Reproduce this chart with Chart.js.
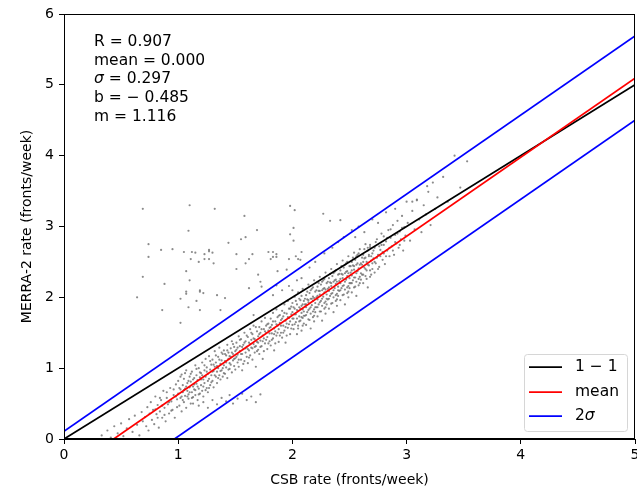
<!DOCTYPE html>
<html>
<head>
<meta charset="utf-8">
<script src="https://cdn.jsdelivr.net/npm/chart.js@4/dist/chart.umd.min.js"></script>
<style>
html,body{margin:0;padding:0;background:#fff;}
#wrap{width:637px;height:489px;position:relative;}
</style>
</head>
<body>
<div id="wrap"><canvas id="c" width="637" height="489"></canvas></div>
<script>
// ---- statistics shown on the figure ----
const statLabels = ["R", "mean", "σ", "b", "m"];
const statValues = ["0.907", "0.000", "0.297", "− 0.485", "1.116"];
const fitSlope = 1.116;
const fitIntercept = -0.485;
const sigma = 0.297;

// ---- axis ticks ----
const xTicks = [0, 1, 2, 3, 4, 5];
const yTicks = [0, 1, 2, 3, 4, 5, 6];
const xTitle = "CSB rate (fronts/week)";
const yTitle = "MERRA-2 rate (fronts/week)";
const legendLabels = ["1 − 1", "mean", "2σ"];

// ---- scatter: [CSB rate, MERRA-2 rate] ----
const bandPoints = [
[0.33,0.05],[0.38,0.12],[0.41,0.02],[0.44,0.18],[0.47,0.08],[0.5,0.22],[0.52,0.04],[0.55,0.15],[0.57,0.28],[0.6,0.1],[0.62,0.33],[0.64,0.2],[0.66,0.05],[0.68,0.38],[0.69,0.25],
[0.71,0.31],[0.72,0.18],[0.73,0.45],[0.74,0.12],[0.75,0.36],[0.76,0.52],[0.77,0.27],[0.78,0.41],[0.79,0.21],[0.8,0.6],[0.81,0.35],[0.82,0.48],[0.83,0.16],[0.84,0.39],[0.85,0.55],[0.86,0.3],[0.87,0.68],[0.88,0.44],[0.89,0.25],[0.9,0.58],[0.91,0.49],[0.92,0.36],[0.93,0.72],[0.94,0.53],[0.95,0.41],[0.96,0.62],[0.97,0.3],[0.98,0.77],[0.99,0.56],[0.99,0.45],
[1.0,0.64],[1.0,0.82],[1.01,0.47],[1.02,0.7],[1.02,0.58],[1.03,0.91],[1.03,0.39],[1.04,0.66],[1.04,0.76],[1.05,0.52],[1.05,0.85],[1.06,0.61],[1.06,0.71],[1.07,0.44],[1.07,0.97],[1.08,0.68],[1.08,0.79],[1.09,0.57],[1.09,0.63],[1.1,0.88],
[1.1,0.73],[1.11,0.5],[1.11,0.81],[1.12,0.66],[1.12,0.95],[1.13,0.74],[1.13,0.59],[1.14,0.86],[1.14,0.7],[1.15,1.04],[1.15,0.62],[1.16,0.78],[1.16,0.9],[1.17,0.55],[1.17,0.83],[1.18,0.71],[1.18,1.0],[1.19,0.64],[1.19,0.87],[1.2,0.76],
[1.2,0.93],[1.21,0.68],[1.21,1.08],[1.22,0.84],[1.22,0.6],[1.23,0.97],[1.23,0.79],[1.24,1.13],[1.24,0.88],[1.25,0.72],[1.25,1.01],[1.26,0.92],[1.26,0.66],[1.27,0.85],[1.27,1.17],[1.28,0.98],[1.28,0.76],[1.29,1.05],[1.29,0.9],[1.3,0.82],
[1.3,1.12],[1.31,0.96],[1.31,0.73],[1.32,1.02],[1.32,1.24],[1.33,0.88],[1.33,1.08],[1.34,0.95],[1.34,0.79],[1.35,1.16],[1.35,1.0],[1.36,0.9],[1.36,1.29],[1.37,1.06],[1.37,0.84],[1.38,1.11],[1.38,0.97],[1.39,1.2],[1.39,0.88],[1.4,1.04],
[1.13,0.5],[1.18,0.47],[1.22,0.52],[1.26,0.44],[1.3,0.55],[1.34,0.49],[1.38,0.58],[1.42,0.53],[1.45,0.62],[1.48,0.5],[1.52,0.57],[1.56,0.64],[1.6,0.55],[1.64,0.6],[1.68,0.52],[1.72,0.63],
[1.4,1.25],[1.41,0.92],[1.41,1.1],[1.42,1.18],[1.42,1.01],[1.43,1.33],[1.43,0.86],[1.44,1.13],[1.44,1.22],[1.45,0.99],[1.45,1.07],[1.46,1.28],[1.46,1.16],[1.47,0.94],[1.47,1.38],[1.48,1.11],[1.48,1.2],[1.49,1.03],[1.49,1.3],[1.5,1.14],
[1.5,0.98],[1.51,1.26],[1.51,1.36],[1.52,1.08],[1.52,1.19],[1.53,1.45],[1.53,1.02],[1.54,1.24],[1.54,1.31],[1.55,1.12],[1.55,1.41],[1.56,1.2],[1.56,0.97],[1.57,1.33],[1.57,1.27],[1.58,1.1],[1.58,1.5],[1.59,1.22],[1.59,1.38],[1.6,1.16],
[1.6,1.3],[1.61,1.44],[1.61,1.07],[1.62,1.36],[1.62,1.25],[1.63,1.55],[1.63,1.18],[1.64,1.4],[1.64,1.29],[1.65,1.12],[1.65,1.48],[1.66,1.34],[1.66,1.6],[1.67,1.22],[1.67,1.41],[1.68,1.31],[1.68,1.02],[1.69,1.52],[1.69,1.37],[1.7,1.26],
[1.7,1.45],[1.71,1.58],[1.71,1.2],[1.72,1.39],[1.72,1.5],[1.73,1.66],[1.73,1.31],[1.74,1.46],[1.74,1.13],[1.75,1.55],[1.75,1.42],[1.76,1.71],[1.76,1.35],[1.77,1.5],[1.77,1.6],[1.78,1.27],[1.78,1.44],[1.79,1.63],[1.79,1.53],[1.8,1.38],
[1.8,1.57],[1.81,1.7],[1.81,1.32],[1.82,1.49],[1.82,1.61],[1.83,1.78],[1.83,1.42],[1.84,1.56],[1.84,1.25],[1.85,1.66],[1.85,1.52],[1.86,1.83],[1.86,1.46],[1.87,1.6],[1.87,1.72],[1.88,1.37],[1.88,1.55],[1.89,1.75],[1.89,1.64],[1.9,1.5],
[1.9,1.68],[1.91,1.81],[1.91,1.43],[1.92,1.6],[1.92,1.73],[1.93,1.9],[1.93,1.53],[1.94,1.67],[1.94,1.36],[1.95,1.77],[1.95,1.63],[1.96,1.95],[1.96,1.57],[1.97,1.71],[1.97,1.84],[1.98,1.48],[1.98,1.66],[1.99,1.87],[1.99,1.76],[2.0,1.61],
[2.0,1.79],[2.0,1.92],[2.01,1.55],[2.01,1.7],[2.02,1.84],[2.02,2.01],[2.03,1.65],[2.03,1.76],[2.04,1.48],[2.04,1.9],[2.05,1.81],[2.05,1.6],[2.05,2.07],[2.06,1.73],[2.06,1.86],[2.07,1.67],[2.07,1.96],[2.08,1.78],[2.08,1.53],[2.08,1.88],[2.09,2.12],[2.09,1.71],[2.09,1.83],[2.1,1.63],[2.1,1.95],[2.1,1.8],
[2.11,1.9],[2.11,1.74],[2.12,2.03],[2.12,1.61],[2.12,1.86],[2.13,1.97],[2.13,1.79],[2.14,2.18],[2.14,1.69],[2.14,1.93],[2.15,1.84],[2.15,2.06],[2.16,1.56],[2.16,1.98],[2.16,1.77],[2.17,1.89],[2.17,2.12],[2.18,1.72],[2.18,1.95],[2.18,2.01],[2.19,1.83],[2.19,2.24],[2.19,1.66],[2.2,1.92],[2.2,2.08],[2.2,1.79],
[2.21,2.0],[2.21,1.86],[2.22,2.15],[2.22,1.73],[2.22,1.97],[2.23,2.09],[2.23,1.9],[2.24,2.29],[2.24,1.8],[2.24,2.04],[2.25,1.95],[2.25,2.18],[2.26,1.67],[2.26,2.1],[2.26,1.88],[2.27,2.01],[2.27,2.24],[2.28,1.84],[2.28,2.07],[2.28,2.13],[2.29,1.94],[2.29,2.35],[2.29,1.77],[2.3,2.04],[2.3,2.2],[2.3,1.9],
[2.31,2.12],[2.31,1.97],[2.32,2.27],[2.32,1.84],[2.32,2.09],[2.33,2.21],[2.33,2.02],[2.34,2.4],[2.34,1.91],[2.34,2.16],[2.35,2.06],[2.35,2.3],[2.36,1.79],[2.36,2.22],[2.36,2.0],[2.37,2.13],[2.37,2.36],[2.38,1.95],[2.38,2.19],[2.38,2.25],[2.39,2.05],[2.39,2.47],[2.39,1.88],[2.4,2.15],[2.4,2.32],[2.4,2.02],
[2.41,2.23],[2.41,2.09],[2.42,2.38],[2.42,1.96],[2.42,2.2],[2.43,2.33],[2.43,2.13],[2.44,2.52],[2.44,2.03],[2.44,2.27],[2.45,2.17],[2.45,2.42],[2.46,1.9],[2.46,2.34],[2.46,2.11],[2.47,2.25],[2.47,2.48],[2.48,2.06],[2.48,2.3],[2.48,2.37],[2.49,2.16],[2.49,2.58],[2.49,2.0],[2.5,2.27],[2.5,2.44],[2.5,2.13],
[2.51,2.35],[2.51,2.2],[2.52,2.5],[2.52,2.07],[2.52,2.31],[2.53,2.45],[2.53,2.24],[2.54,2.63],[2.54,2.14],[2.54,2.39],[2.55,2.28],[2.55,2.53],[2.56,2.02],[2.56,2.46],[2.56,2.22],[2.57,2.37],[2.57,2.6],[2.58,2.17],[2.58,2.41],[2.59,2.29],[2.59,2.68],[2.6,2.48],[2.6,2.25],
[2.61,2.46],[2.61,2.32],[2.62,2.6],[2.62,2.2],[2.63,2.42],[2.63,2.55],[2.64,2.75],[2.64,2.3],[2.65,2.5],[2.65,2.38],[2.66,2.66],[2.66,2.14],[2.67,2.45],[2.67,2.58],[2.68,2.29],[2.68,2.71],[2.69,2.52],[2.7,2.4],[2.7,2.62],
[2.71,2.55],[2.72,2.35],[2.72,2.7],[2.73,2.48],[2.74,2.82],[2.75,2.6],[2.76,2.43],[2.77,2.67],[2.78,2.9],[2.79,2.53],[2.8,2.74],[2.8,2.62],
[2.81,2.47],[2.82,2.79],[2.83,2.66],[2.84,2.95],[2.85,2.58],[2.86,2.84],[2.87,2.72],[2.88,3.02],[2.89,2.6],[2.9,2.88],
[2.91,2.76],[2.92,3.08],[2.93,2.7],[2.94,2.93],[2.95,2.82],[2.96,3.15],[2.97,2.66],[2.98,2.99],[2.99,2.87],
[3.01,3.05],[3.03,2.8],[3.05,3.22],[3.07,2.96],[3.09,3.38],[3.11,3.1],[3.13,2.92],[3.15,3.3],[3.17,3.17],[3.19,3.49],[3.21,3.02],[3.23,3.62],[3.25,3.25],[3.27,3.41],
[3.32,3.7],[3.36,3.35],[3.42,4.0],[3.47,3.55],[3.53,3.92],
[2.45,2.85],[2.52,2.95],[2.58,3.0],[2.63,2.92],[2.7,3.1],[2.75,3.05],[2.82,3.2],[2.9,3.25],[3.0,3.35],[2.35,2.7],[2.28,2.62],[2.4,2.78],[2.2,2.5],[2.15,2.42],[2.55,2.85]
];
const bandPointsDense = [
[0.8,0.42],[0.82,0.3],[0.84,0.58],[0.86,0.47],[0.88,0.34],[0.9,0.66],[0.92,0.52],[0.94,0.4],[0.96,0.7],[0.98,0.6],
[1.01,0.72],[1.02,0.88],[1.03,0.6],[1.04,0.55],[1.05,0.69],[1.06,0.93],[1.07,0.74],[1.08,0.6],[1.09,0.82],[1.1,0.66],
[1.11,0.92],[1.12,0.58],[1.13,0.84],[1.14,0.77],[1.15,0.69],[1.16,0.99],[1.17,0.74],[1.18,0.63],[1.19,0.94],[1.2,0.84],
[1.21,0.9],[1.22,0.74],[1.23,1.04],[1.24,0.69],[1.25,0.95],[1.26,0.82],[1.27,0.72],[1.28,1.1],[1.29,0.8],[1.3,0.95],
[1.31,1.05],[1.32,0.9],[1.33,1.18],[1.34,1.03],[1.35,0.86],[1.36,1.12],[1.37,0.96],[1.38,1.22],[1.39,1.0],[1.4,0.93],
[1.41,1.2],[1.42,1.08],[1.43,1.25],[1.44,0.98],[1.45,1.17],[1.46,1.05],[1.47,1.22],[1.48,1.34],[1.49,1.13],[1.5,1.24],
[1.51,1.16],[1.52,1.29],[1.53,1.12],[1.54,1.4],[1.55,1.2],[1.56,1.3],[1.57,1.06],[1.58,1.36],[1.59,1.28],[1.6,1.46],
[1.61,1.27],[1.62,1.15],[1.63,1.34],[1.64,1.5],[1.65,1.28],[1.66,1.42],[1.67,1.3],[1.68,1.58],[1.69,1.24],[1.7,1.36],
[1.71,1.48],[1.72,1.3],[1.73,1.55],[1.74,1.38],[1.75,1.24],[1.76,1.52],[1.77,1.4],[1.78,1.62],[1.79,1.35],[1.8,1.49],
[1.81,1.58],[1.82,1.4],[1.83,1.66],[1.84,1.48],[1.85,1.35],[1.86,1.62],[1.87,1.5],[1.88,1.74],[1.89,1.46],[1.9,1.6],
[1.91,1.7],[1.92,1.5],[1.93,1.78],[1.94,1.58],[1.95,1.46],[1.96,1.72],[1.97,1.62],[1.98,1.84],[1.99,1.56],[2.0,1.7],
[2.01,1.86],[2.02,1.62],[2.02,1.76],[2.03,1.95],[2.04,1.7],[2.04,1.82],[2.05,1.56],[2.06,1.98],[2.06,1.66],[2.07,1.84],[2.08,1.72],[2.08,2.02],[2.09,1.6],[2.09,1.9],[2.1,1.74],
[2.11,1.98],[2.12,1.75],[2.12,1.9],[2.13,2.08],[2.14,1.82],[2.14,1.96],[2.15,1.68],[2.16,2.1],[2.16,1.86],[2.17,1.98],[2.18,1.8],[2.18,2.14],[2.19,1.74],[2.19,1.99],[2.2,1.86],
[2.21,2.1],[2.22,1.86],[2.22,2.02],[2.23,2.2],[2.24,1.93],[2.24,2.09],[2.25,1.8],[2.26,2.22],[2.26,1.98],[2.27,2.12],[2.28,1.92],[2.28,2.26],[2.29,1.86],[2.29,2.11],[2.3,1.98],
[2.31,2.22],[2.32,1.98],[2.32,2.14],[2.33,2.33],[2.34,2.05],[2.34,2.2],[2.35,1.92],[2.36,2.34],[2.36,2.1],[2.37,2.24],[2.38,2.03],[2.38,2.38],[2.39,1.97],[2.39,2.22],[2.4,2.1],
[2.41,2.33],[2.42,2.1],[2.42,2.26],[2.43,2.44],[2.44,2.16],[2.44,2.32],[2.45,2.04],[2.46,2.46],[2.46,2.22],[2.47,2.36],[2.48,2.14],[2.48,2.5],[2.49,2.08],[2.49,2.34],[2.5,2.2],
[2.51,2.44],[2.52,2.2],[2.52,2.38],[2.53,2.56],[2.54,2.28],[2.54,2.44],[2.55,2.15],[2.56,2.58],[2.56,2.34],[2.57,2.48],[2.58,2.26],[2.58,2.62],[2.59,2.2],[2.59,2.46],[2.6,2.34],
[2.61,2.56],[2.62,2.32],[2.62,2.5],[2.63,2.68],[2.64,2.4],[2.64,2.56],[2.65,2.26],[2.66,2.7],[2.66,2.46],[2.67,2.6],[2.68,2.38],[2.68,2.74],[2.69,2.32],[2.69,2.58],[2.7,2.48],
[2.71,2.66],[2.72,2.5],[2.73,2.78],[2.74,2.56],[2.75,2.4],[2.76,2.72],[2.77,2.58],[2.78,2.74],[2.79,2.64],[2.8,2.86],[2.82,2.58],[2.83,2.84],[2.85,2.7],[2.86,2.96],[2.88,2.66],[2.9,2.78],[2.92,2.9],[2.94,2.74],[2.96,2.98],[2.98,2.8]
];
const outlierPoints = [
[0.69,3.25],[1.10,3.30],[1.09,2.94],[0.74,2.75],[0.85,2.67],[0.95,2.68],[1.05,2.64],[1.12,2.64],[1.15,2.63],[1.23,2.61],[1.27,2.67],[0.74,2.57],[1.11,2.54],[1.23,2.54],[1.27,2.54],[1.18,2.50],[1.07,2.37],[0.69,2.29],[1.10,2.24],[0.88,2.19],[1.07,2.08],[1.19,2.08],[0.64,2.00],[1.02,1.98],
[1.32,3.25],[1.98,3.29],[2.02,3.23],[1.58,3.15],[1.69,2.95],[1.59,2.85],[1.55,2.82],[1.98,2.89],[2.01,2.80],[1.44,2.77],[1.27,2.65],[1.30,2.63],[1.51,2.61],[1.65,2.61],[1.79,2.64],[1.83,2.64],[1.86,2.61],[1.86,2.57],[1.83,2.57],[2.08,2.64],[1.62,2.54],[1.81,2.54],[1.97,2.54],[2.05,2.54],[1.31,2.48],[1.59,2.48],[1.51,2.40],[1.87,2.37],[1.70,2.32],[1.95,2.39],[1.19,2.10],[1.34,2.03],[1.41,1.99],[1.62,2.13],[1.73,2.15],[1.83,2.03],[1.91,2.10],[1.97,2.16],[2.00,2.10],[2.04,2.24],[2.08,2.27],
[0.86,1.82],[1.02,1.64],[1.09,1.86],[1.19,1.82],[1.16,1.95],[1.07,2.05],
[2.27,3.18],[2.33,3.08],[2.42,3.09],[3.09,3.37],[3.18,3.57],[3.05,3.35],[2.01,2.98],[2.03,2.58],[2.07,2.53],
[1.37,1.82],[1.66,1.75],[1.72,2.22],[1.86,2.17],[1.22,2.06]
];

const X_MIN = xTicks[0], X_MAX = xTicks[xTicks.length - 1];
const Y_MIN = yTicks[0], Y_MAX = yTicks[yTicks.length - 1];

const scatterData = bandPoints.concat(bandPointsDense, outlierPoints).map(p => ({x: p[0], y: p[1]}));
const lineOf = (m, b) => [{x: X_MIN, y: m * X_MIN + b}, {x: X_MAX, y: m * X_MAX + b}];

const FONT = "'DejaVu Sans', sans-serif";
const NOTE_SIZE = 15.5;

function drawRich(ctx, segs, x, y, size) {
  let cx = x;
  for (const [t, it] of segs) {
    ctx.font = (it ? 'italic ' : '') + size + 'px ' + FONT;
    ctx.fillText(t, cx, y);
    cx += ctx.measureText(t).width;
  }
}

const overlay = {
  id: 'overlay',
  afterDraw(chart) {
    const {ctx, chartArea: a} = chart;
    ctx.save();
    // frame
    ctx.strokeStyle = '#000';
    ctx.lineWidth = 1;
    ctx.strokeRect(Math.round(a.left) + 0.5, Math.round(a.top) + 0.5, Math.round(a.right - a.left) - 1, Math.round(a.bottom - a.top) - 1);
    // stats text
    ctx.fillStyle = '#000';
    ctx.textBaseline = 'middle';
    ctx.textAlign = 'left';
    const ys = [42, 60.5, 79, 98, 117];
    statLabels.forEach((lab, i) => {
      const segs = lab === 'σ' ? [['σ', true], [' = ' + statValues[i], false]] : [[lab + ' = ' + statValues[i], false]];
      drawRich(ctx, segs, 94, ys[i], NOTE_SIZE);
    });
    // legend
    const bx = 524.5, by = 354.5, bw = 103, bh = 77, r = 3;
    ctx.beginPath();
    ctx.moveTo(bx + r, by);
    ctx.arcTo(bx + bw, by, bx + bw, by + bh, r);
    ctx.arcTo(bx + bw, by + bh, bx, by + bh, r);
    ctx.arcTo(bx, by + bh, bx, by, r);
    ctx.arcTo(bx, by, bx + bw, by, r);
    ctx.closePath();
    ctx.fillStyle = 'rgba(255,255,255,0.8)';
    ctx.fill();
    ctx.strokeStyle = '#d6d6d6';
    ctx.stroke();
    const cols = ['#000000', '#ff0000', '#0000ff'];
    const rows = [367, 392, 416];
    legendLabels.forEach((lab, i) => {
      ctx.strokeStyle = cols[i];
      ctx.lineWidth = 1.75;
      ctx.beginPath();
      ctx.moveTo(529, rows[i]);
      ctx.lineTo(562, rows[i]);
      ctx.stroke();
      ctx.fillStyle = '#000';
      const segs = lab === '2σ' ? [['2', false], ['σ', true]] : [[lab, false]];
      drawRich(ctx, segs, 575, rows[i], NOTE_SIZE);
    });
    ctx.restore();
  }
};

new Chart(document.getElementById('c'), {
  type: 'scatter',
  data: {
    datasets: [
      {label: 'points', data: scatterData, backgroundColor: 'rgba(110,110,110,0.8)', borderWidth: 0, pointRadius: 1.1, pointHoverRadius: 1.1, order: 10},
      {label: legendLabels[0], data: lineOf(1, 0), showLine: true, borderColor: '#000000', borderWidth: 1.75, pointRadius: 0, order: 3},
      {label: legendLabels[1], data: lineOf(fitSlope, fitIntercept), showLine: true, borderColor: '#ff0000', borderWidth: 1.75, pointRadius: 0, order: 2},
      {label: legendLabels[2], data: lineOf(fitSlope, fitIntercept + 2 * sigma), showLine: true, borderColor: '#0000ff', borderWidth: 1.75, pointRadius: 0, order: 1},
      {label: legendLabels[2] + ' ', data: lineOf(fitSlope, fitIntercept - 2 * sigma), showLine: true, borderColor: '#0000ff', borderWidth: 1.75, pointRadius: 0, order: 1}
    ]
  },
  options: {
    responsive: false,
    animation: false,
    devicePixelRatio: 1,
    layout: {padding: {top: 14, right: 2, left: 0, bottom: 0}},
    plugins: {legend: {display: false}, tooltip: {enabled: false}},
    scales: {
      x: {
        type: 'linear', min: X_MIN, max: X_MAX,
        afterBuildTicks: s => { s.ticks = xTicks.map(v => ({value: v})); },
        afterFit: s => { s.height = 50; s.paddingRight = 0; s.paddingLeft = 0; },
        grid: {drawOnChartArea: false, drawTicks: true, tickLength: 5, color: '#000'},
        border: {display: true, color: '#000', width: 1},
        ticks: {color: '#000', font: {family: FONT, size: 14}, padding: 3, maxRotation: 0},
        title: {display: true, text: xTitle, color: '#000', font: {family: FONT, size: 14}, padding: {top: 2, bottom: 0}}
      },
      y: {
        type: 'linear', min: Y_MIN, max: Y_MAX,
        afterBuildTicks: s => { s.ticks = yTicks.map(v => ({value: v})); },
        afterFit: s => { s.width = 64; s.paddingTop = 0; s.paddingBottom = 0; },
        grid: {drawOnChartArea: false, drawTicks: true, tickLength: 5, color: '#000'},
        border: {display: true, color: '#000', width: 1},
        ticks: {color: '#000', font: {family: FONT, size: 14}, padding: 5},
        title: {display: true, text: yTitle, color: '#000', font: {family: FONT, size: 14}, padding: {top: 19, bottom: 4}}
      }
    }
  },
  plugins: [overlay]
});
</script>
</body>
</html>
